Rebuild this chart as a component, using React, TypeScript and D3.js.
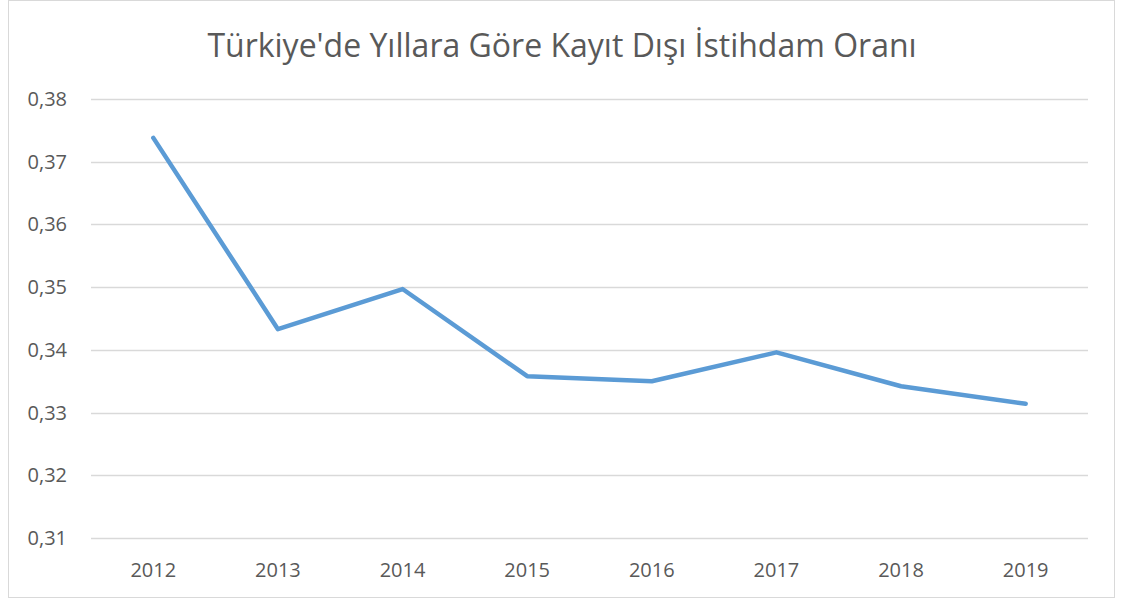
import * as d3 from "d3";
import { useEffect, useRef } from "react";

const years = ["2012", "2013", "2014", "2015", "2016", "2017", "2018", "2019"];
const rates = [0.3738, 0.3433, 0.3497, 0.3358, 0.335, 0.3396, 0.3342, 0.3314];
const yTicks = [0.31, 0.32, 0.33, 0.34, 0.35, 0.36, 0.37, 0.38];
const title = "Türkiye'de Yıllara Göre Kayıt Dışı İstihdam Oranı";

const App = () => {
  const ref = useRef<SVGSVGElement>(null);

  useEffect(() => {
    const width = 1121, height = 599;
    const svg = d3.select(ref.current);
    svg.selectAll("*").remove();
    svg.attr("width", width).attr("height", height);

    const font = "'Open Sans', sans-serif";
    const textColor = "#595959";

    svg.append("rect")
      .attr("x", 8.5).attr("y", 0.5)
      .attr("width", 1106).attr("height", 597)
      .attr("fill", "white")
      .attr("stroke", "#d9d9d9");

    const x = d3.scaleBand().domain(years).range([91, 1088]);
    const y = d3.scaleLinear().domain([0.31, 0.38]).range([538, 99]);

    svg.append("text")
      .attr("x", 562).attr("y", 57)
      .attr("text-anchor", "middle")
      .attr("font-family", font)
      .attr("font-size", 32)
      .attr("fill", textColor)
      .text(title);

    svg.append("g")
      .selectAll("line")
      .data(yTicks)
      .enter()
      .append("line")
      .attr("x1", 91).attr("x2", 1088)
      .attr("y1", d => Math.round(y(d)) + 0.5)
      .attr("y2", d => Math.round(y(d)) + 0.5)
      .attr("stroke", "#d9d9d9")
      .attr("stroke-width", 1.3);

    svg.append("g")
      .selectAll("text")
      .data(yTicks)
      .enter()
      .append("text")
      .attr("x", 67).attr("y", d => y(d))
      .attr("dy", "0.35em")
      .attr("text-anchor", "end")
      .attr("font-family", font)
      .attr("font-size", 20)
      .attr("fill", textColor)
      .text(d => d3.format(".2f")(d).replace(".", ","));

    svg.append("g")
      .selectAll("text")
      .data(years)
      .enter()
      .append("text")
      .attr("x", d => (x(d) as number) + x.bandwidth() / 2)
      .attr("y", 577)
      .attr("text-anchor", "middle")
      .attr("font-family", font)
      .attr("font-size", 20)
      .attr("fill", textColor)
      .text(d => d);

    const line = d3.line<number>()
      .x((d, i) => (x(years[i]) as number) + x.bandwidth() / 2)
      .y(d => y(d));

    svg.append("path")
      .datum(rates)
      .attr("d", line)
      .attr("fill", "none")
      .attr("stroke", "#5b9bd5")
      .attr("stroke-width", 4.5)
      .attr("stroke-linejoin", "round")
      .attr("stroke-linecap", "round");
  }, []);

  return (
    <svg ref={ref} style={{ position: "absolute", left: 0, top: 0 }}></svg>
  );
};

export default App;
